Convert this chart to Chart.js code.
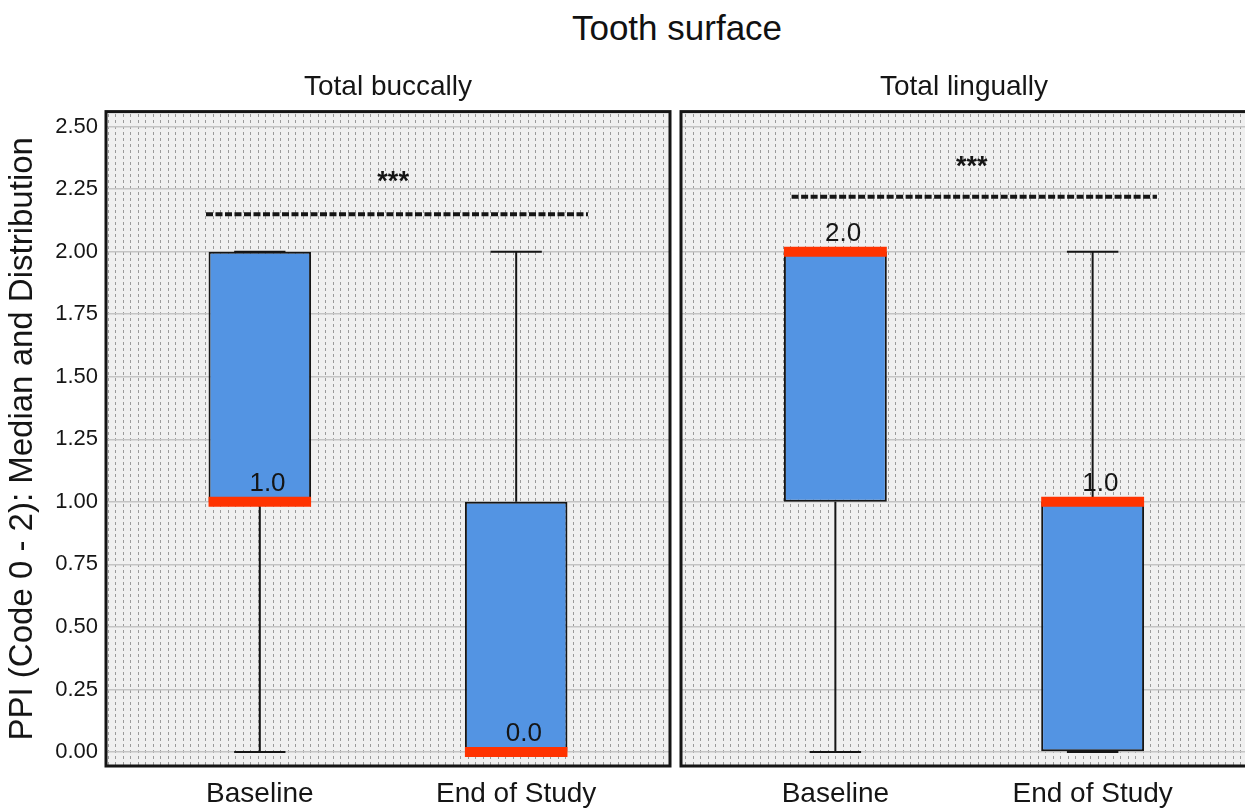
<!DOCTYPE html>
<html>
<head>
<meta charset="utf-8">
<script src="https://cdn.jsdelivr.net/npm/chart.js@4.4.1/dist/chart.umd.min.js"></script>
<style>
  html, body { margin: 0; padding: 0; background: #fff; overflow: hidden; width: 1245px; height: 808px; }
  #title { position: absolute; left: 427px; top: 8px; width: 500px; text-align: center;
           font: 35px "Liberation Sans", Arial, sans-serif; line-height: 40px; color: #111; }
  canvas { position: absolute; top: 60px; }
  #left { left: 0; }
  #right { left: 675px; }
</style>
</head>
<body>
<div id="title">Tooth surface</div>
<canvas id="left" width="675" height="748"></canvas>
<canvas id="right" width="575" height="748"></canvas>
<script>
// categories
const groups = ['Baseline', 'End of Study'];
const xPos = [1, 2];
const panelTitles = ['Total buccally', 'Total lingually'];

// box statistics per group (min, q1, median, q3, max)
const buccMin = [0, 0];
const buccQ1  = [1, 0];
const buccMed = [1, 0];
const buccQ3  = [2, 1];
const buccMax = [2, 2];

const lingMin = [0, 0];
const lingQ1  = [1, 0];
const lingMed = [2, 1];
const lingQ3  = [2, 1];
const lingMax = [2, 2];

// y tick labels
const yTicks = [0, 0.25, 0.5, 0.75, 1, 1.25, 1.5, 1.75, 2, 2.25, 2.5];

// significance bars (one per panel)
const sigLevel = [2.15, 2.22];
const sigFrom  = [0.79, 0.83];
const sigTo    = [2.28, 2.25];
const starLevel = [2.31, 2.37];
const starX     = [1.52, 1.53];
const starText  = ['***', '***'];

const FONT = '"Liberation Sans", Arial, sans-serif';
const INK = '#151515';
const BOX_HALF = 0.2, CAP_HALF = 0.1;

// dotted background texture
function makePattern(ctx) {
  const c = document.createElement('canvas');
  c.width = 15; c.height = 6;
  const g = c.getContext('2d');
  g.fillStyle = '#f0f0f0';
  g.fillRect(0, 0, 15, 6);
  g.fillStyle = '#9a9a9a';
  g.fillRect(3, 0, 1, 3);
  g.fillRect(10, 0, 1, 3);
  return ctx.createPattern(c, 'repeat');
}

function buildPanel(id, p, mn, q1, md, q3, mx, showY) {
  const whisk = [], box = [], med = [];
  xPos.forEach((x, i) => {
    whisk.push({x: x, y: mn[i]}, {x: x, y: q1[i]}, {x: x, y: null});
    whisk.push({x: x, y: q3[i]}, {x: x, y: mx[i]}, {x: x, y: null});
    whisk.push({x: x - CAP_HALF, y: mn[i]}, {x: x + CAP_HALF, y: mn[i]}, {x: x, y: null});
    whisk.push({x: x - CAP_HALF, y: mx[i]}, {x: x + CAP_HALF, y: mx[i]}, {x: x, y: null});
    box.push({x: x, y: [q1[i], q3[i]]});
    med.push({x: x - BOX_HALF, y: md[i]}, {x: x + BOX_HALF, y: md[i]}, {x: x, y: null});
  });

  const deco = {
    id: 'deco',
    beforeDraw(chart) {
      const a = chart.chartArea, ctx = chart.ctx;
      ctx.save();
      ctx.fillStyle = makePattern(ctx);
      ctx.fillRect(a.left, a.top, a.right - a.left, a.bottom - a.top);
      ctx.restore();
    },
    afterDatasetsDraw(chart) {
      const ctx = chart.ctx, xs = chart.scales.x, ys = chart.scales.y;
      ctx.save();
      ctx.fillStyle = INK;
      ctx.textAlign = 'center';
      ctx.textBaseline = 'alphabetic';
      ctx.font = '26px ' + FONT;
      xPos.forEach((x, i) => {
        ctx.fillText(md[i].toFixed(1), xs.getPixelForValue(x + 0.03), ys.getPixelForValue(md[i]) - 11);
      });
      ctx.font = 'bold 27px ' + FONT;
      ctx.fillText(starText[p], xs.getPixelForValue(starX[p]), ys.getPixelForValue(starLevel[p]) + 16);
      ctx.restore();
    },
    afterDraw(chart) {
      const a = chart.chartArea, ctx = chart.ctx;
      ctx.save();
      ctx.strokeStyle = INK;
      ctx.lineWidth = 3;
      ctx.strokeRect(a.left, a.top, a.right - a.left, a.bottom - a.top);
      ctx.restore();
    }
  };

  return new Chart(document.getElementById(id), {
    type: 'bar',
    data: {
      datasets: [
        {
          type: 'line', data: [{x: sigFrom[p], y: sigLevel[p]}, {x: sigTo[p], y: sigLevel[p]}],
          borderColor: INK, borderWidth: 4, borderDash: [7, 2.5], pointRadius: 0, order: 0
        },
        {
          type: 'line', data: med, borderColor: '#ff3300', borderWidth: 10,
          borderCapStyle: 'butt', pointRadius: 0, spanGaps: false, order: 1
        },
        {
          data: box, backgroundColor: '#5394e3', borderColor: INK, borderWidth: 2,
          borderSkipped: false, categoryPercentage: 1, barPercentage: 0.4, order: 2
        },
        {
          type: 'line', data: whisk, borderColor: INK, borderWidth: 2,
          pointRadius: 0, spanGaps: false, order: 3
        }
      ]
    },
    options: {
      responsive: false,
      animation: false,
      layout: { padding: showY ? {left: 0, right: 5, top: 0, bottom: 0} : {left: 6, right: 3, top: 0, bottom: 0} },
      plugins: {
        legend: { display: false },
        tooltip: { enabled: false },
        title: {
          display: true, text: panelTitles[p], fullSize: false, color: INK,
          font: { family: FONT, size: 28, weight: 'normal' }, padding: { top: 10, bottom: 8 }
        }
      },
      scales: {
        x: {
          type: 'linear', min: 0.4, max: 2.6, offset: false,
          grid: { display: false, offset: false }, border: { display: false },
          afterBuildTicks: (s) => { s.ticks = xPos.map(v => ({value: v})); },
          afterFit: (s) => { s.height = 42; },
          ticks: {
            color: INK, padding: 3, maxRotation: 0, autoSkip: false,
            font: { family: FONT, size: 28 },
            callback: (v) => { const i = xPos.indexOf(v); return i >= 0 ? groups[i] : ''; }
          }
        },
        y: {
          min: -0.056, max: 2.56,
          grid: { color: '#c4c4c4', lineWidth: 1.5, drawTicks: false },
          border: { display: false },
          afterBuildTicks: (s) => { s.ticks = yTicks.map(v => ({value: v})); },
          afterFit: (s) => { s.width = showY ? 106 : 0; },
          ticks: {
            display: showY, color: INK, padding: 8,
            font: { family: FONT, size: 22 },
            callback: (v) => v.toFixed(2)
          },
          title: {
            display: showY, text: 'PPI (Code 0 - 2): Median and Distribution', color: INK,
            font: { family: FONT, size: 33 }, padding: { top: 3, bottom: 0 }
          }
        }
      }
    },
    plugins: [deco]
  });
}

buildPanel('left', 0, buccMin, buccQ1, buccMed, buccQ3, buccMax, true);
buildPanel('right', 1, lingMin, lingQ1, lingMed, lingQ3, lingMax, false);
</script>
</body>
</html>
